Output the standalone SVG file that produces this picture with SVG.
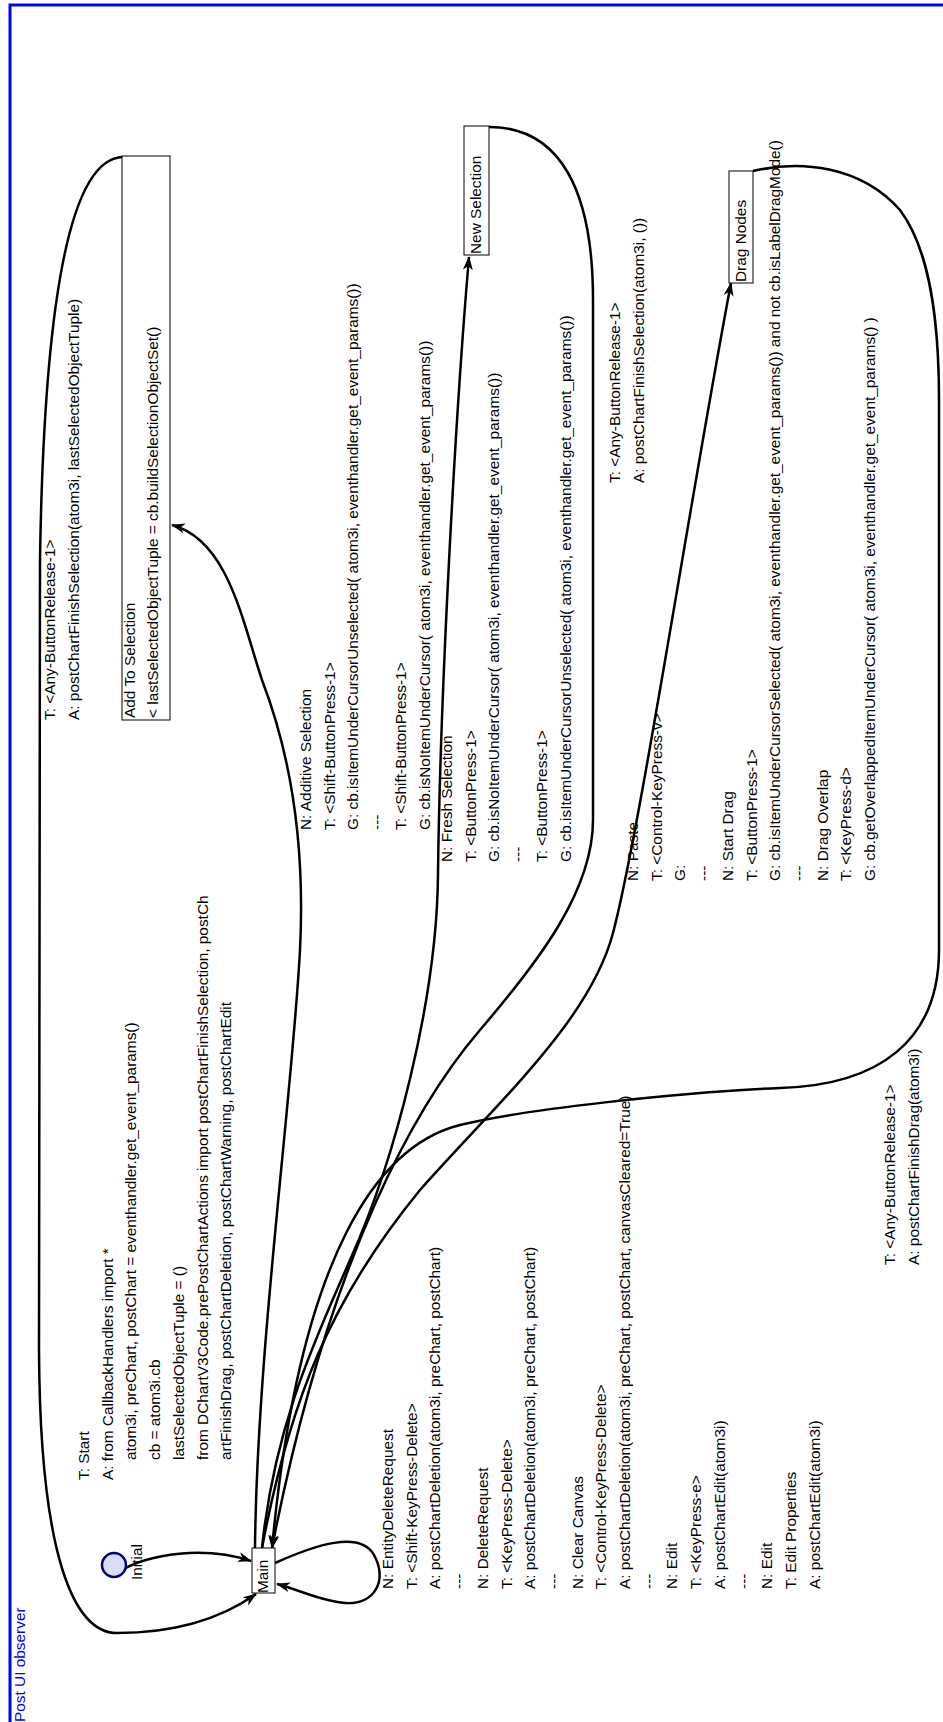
<svg xmlns="http://www.w3.org/2000/svg" width="943" height="1722" viewBox="0 0 943 1722">
<style>
.t{font-family:"Liberation Sans",Arial,sans-serif;font-size:15.4px;fill:#000}
.n{fill:#fff;stroke:#000;stroke-width:1}
.c{fill:none;stroke:#000;stroke-width:2.5}
</style>
<defs>
<marker id="ah" viewBox="0 0 14 10" refX="13" refY="5" markerWidth="14" markerHeight="10" markerUnits="userSpaceOnUse" orient="auto"><path d="M0,0 L14,5 L0,10 L4,5 z" fill="#000"/></marker>
</defs>
<rect x="0" y="0" width="943" height="1722" fill="#fff"/>
<rect x="10" y="5" width="1000" height="1800" fill="none" stroke="#0000ff" stroke-width="3"/>
<text transform="translate(25,1722) rotate(-90)" style="font-family:'Liberation Sans',Arial,sans-serif;font-size:15.4px;fill:#0000ff">Post UI observer</text>

<g id="connectors">
<path class="c" marker-end="url(#ah)" d="M118,1572 C150,1553 205,1546 251,1561"/>
<path class="c" marker-end="url(#ah)" d="M123,157 C70,158 44,300 40,560 L39,1350 C40,1560 75,1633 117,1633 C175,1633 222,1618 256,1594"/>
<path class="c" marker-end="url(#ah)" d="M255,1548 C257,1350 292,1100 300,950 C306,830 285,740 262,680 C242,620 228,540 172,525"/>
<path class="c" marker-end="url(#ah)" d="M262,1548 C275,1420 320,1330 350,1260 C395,1160 437,1000 438,874 C440,700 455,420 469,257"/>
<path class="c" marker-end="url(#ah)" d="M489,127 C560,127 593,190 593,300 L593,820 C593,890 540,960 480,1030 C420,1100 330,1250 272,1548"/>
<path class="c" marker-end="url(#ah)" d="M262,1548 C290,1400 330,1300 420,1190 C500,1100 590,1020 613,933 C640,830 690,500 731,283"/>
<path class="c" marker-end="url(#ah)" d="M753,171 C800,160 860,165 900,210 C930,250 939,320 939,400 L939,950 C939,1040 880,1085 780,1088 C680,1092 520,1110 460,1125 C380,1145 300,1250 272,1548"/>
<path class="c" marker-end="url(#ah)" d="M275,1563 C315,1545 360,1530 374,1555 C388,1580 375,1605 345,1603 C320,1601 300,1590 277,1584"/>
</g>

<g id="initial">
<circle cx="114" cy="1565" r="12" fill="#dcdcf6" stroke="#00007f" stroke-width="2.5"/>
<text class="t" transform="translate(142,1580) rotate(-90)">Initial</text>
</g>
<g id="main">
<rect class="n" x="252" y="1548" width="23" height="45"/>
<text class="t" transform="translate(268,1593) rotate(-90)">Main</text>
</g>
<g id="addToSelection">
<rect class="n" x="122" y="156" width="48" height="564"/>
<g transform="translate(135,718) rotate(-90)">
<text class="t" x="0" y="0">Add To Selection</text>
<text class="t" x="0" y="23">&lt; lastSelectedObjectTuple = cb.buildSelectionObjectSet()</text>
</g>
</g>
<g id="newSelection">
<rect class="n" x="464" y="126" width="25" height="129"/>
<text class="t" transform="translate(481,254) rotate(-90)">New Selection</text>
</g>
<g id="dragNodes">
<rect class="n" x="729" y="171" width="24" height="112"/>
<text class="t" transform="translate(746,282) rotate(-90)">Drag Nodes</text>
</g>

<g id="labels">
<g transform="translate(55,720) rotate(-90)">
<text class="t" x="0" y="0">T: &lt;Any-ButtonRelease-1&gt;</text>
<text class="t" x="0" y="23.7">A: postChartFinishSelection(atom3i, lastSelectedObjectTuple)</text>
</g>
<g transform="translate(89,1480) rotate(-90)">
<text class="t" x="0" y="0">T: Start</text>
<text class="t" x="0" y="23.7">A: from CallbackHandlers import *</text>
<text class="t" x="20" y="47.4">atom3i, preChart, postChart = eventhandler.get_event_params()</text>
<text class="t" x="20" y="71.1">cb = atom3i.cb</text>
<text class="t" x="20" y="94.8">lastSelectedObjectTuple = ()</text>
<text class="t" x="20" y="118.5">from DChartV3Code.prePostChartActions import postChartFinishSelection, postCh</text>
<text class="t" x="20" y="142.2">artFinishDrag, postChartDeletion, postChartWarning, postChartEdit</text>
</g>
<g transform="translate(311,830) rotate(-90)">
<text class="t" x="0" y="0">N: Additive Selection</text>
<text class="t" x="0" y="23.7">T: &lt;Shift-ButtonPress-1&gt;</text>
<text class="t" x="0" y="47.4">G: cb.isItemUnderCursorUnselected( atom3i, eventhandler.get_event_params())</text>
<text class="t" x="0" y="71.1">---</text>
<text class="t" x="0" y="94.8">T: &lt;Shift-ButtonPress-1&gt;</text>
<text class="t" x="0" y="118.5">G: cb.isNoItemUnderCursor( atom3i, eventhandler.get_event_params())</text>
</g>
<g transform="translate(452,862) rotate(-90)">
<text class="t" x="0" y="0">N: Fresh Selection</text>
<text class="t" x="0" y="23.7">T: &lt;ButtonPress-1&gt;</text>
<text class="t" x="0" y="47.4">G: cb.isNoItemUnderCursor( atom3i, eventhandler.get_event_params())</text>
<text class="t" x="0" y="71.1">---</text>
<text class="t" x="0" y="94.8">T: &lt;ButtonPress-1&gt;</text>
<text class="t" x="0" y="118.5">G: cb.isItemUnderCursorUnselected( atom3i, eventhandler.get_event_params())</text>
</g>
<g transform="translate(620,483) rotate(-90)">
<text class="t" x="0" y="0">T: &lt;Any-ButtonRelease-1&gt;</text>
<text class="t" x="0" y="23.7">A: postChartFinishSelection(atom3i, ())</text>
</g>
<g transform="translate(638,881) rotate(-90)">
<text class="t" x="0" y="0">N: Paste</text>
<text class="t" x="0" y="23.7">T: &lt;Control-KeyPress-v&gt;</text>
<text class="t" x="0" y="47.4">G:</text>
<text class="t" x="0" y="71.1">---</text>
<text class="t" x="0" y="94.8">N: Start Drag</text>
<text class="t" x="0" y="118.5">T: &lt;ButtonPress-1&gt;</text>
<text class="t" x="0" y="142.2">G: cb.isItemUnderCursorSelected( atom3i, eventhandler.get_event_params()) and not cb.isLabelDragMode()</text>
<text class="t" x="0" y="165.9">---</text>
<text class="t" x="0" y="189.6">N: Drag Overlap</text>
<text class="t" x="0" y="213.3">T: &lt;KeyPress-d&gt;</text>
<text class="t" x="0" y="237">G: cb.getOverlappedItemUnderCursor( atom3i, eventhandler.get_event_params() )</text>
</g>
<g transform="translate(895,1265) rotate(-90)">
<text class="t" x="0" y="0">T: &lt;Any-ButtonRelease-1&gt;</text>
<text class="t" x="0" y="23.7">A: postChartFinishDrag(atom3i)</text>
</g>
<g transform="translate(393,1589) rotate(-90)">
<text class="t" x="0" y="0">N: EntityDeleteRequest</text>
<text class="t" x="0" y="23.7">T: &lt;Shift-KeyPress-Delete&gt;</text>
<text class="t" x="0" y="47.4">A: postChartDeletion(atom3i, preChart, postChart)</text>
<text class="t" x="0" y="71.1">---</text>
<text class="t" x="0" y="94.8">N: DeleteRequest</text>
<text class="t" x="0" y="118.5">T: &lt;KeyPress-Delete&gt;</text>
<text class="t" x="0" y="142.2">A: postChartDeletion(atom3i, preChart, postChart)</text>
<text class="t" x="0" y="165.9">---</text>
<text class="t" x="0" y="189.6">N: Clear Canvas</text>
<text class="t" x="0" y="213.3">T: &lt;Control-KeyPress-Delete&gt;</text>
<text class="t" x="0" y="237">A: postChartDeletion(atom3i, preChart, postChart, canvasCleared=True)</text>
<text class="t" x="0" y="260.7">---</text>
<text class="t" x="0" y="284.4">N: Edit</text>
<text class="t" x="0" y="308.1">T: &lt;KeyPress-e&gt;</text>
<text class="t" x="0" y="331.8">A: postChartEdit(atom3i)</text>
<text class="t" x="0" y="355.5">---</text>
<text class="t" x="0" y="379.2">N: Edit</text>
<text class="t" x="0" y="402.9">T: Edit Properties</text>
<text class="t" x="0" y="426.6">A: postChartEdit(atom3i)</text>
</g>
</g>
</svg>
